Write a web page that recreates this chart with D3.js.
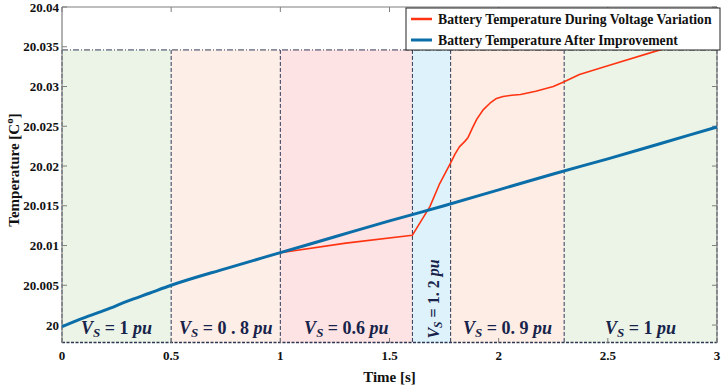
<!DOCTYPE html>
<html>
<head>
<meta charset="utf-8">
<script src="https://cdn.jsdelivr.net/npm/d3@7"></script>
<style>
  body { margin: 0; background: #fff; }
  svg { display: block; font-family: "Liberation Serif", "Times New Roman", serif; }
  .tick-label { font-weight: bold; font-size: 13px; fill: #111; }
  .axis-title { font-weight: bold; font-size: 15px; fill: #111; }
  .legend-text { font-weight: bold; font-size: 13.7px; fill: #111; }
  .region-label { font-weight: bold; font-size: 18px; fill: #17234a; }
</style>
</head>
<body>
<div id="chart"></div>
<script>
// ---- data ----
let xTicks = [0, 0.5, 1, 1.5, 2, 2.5, 3];
let yTicks = [20, 20.005, 20.01, 20.015, 20.02, 20.025, 20.03, 20.035, 20.04];

// voltage regions (start, end, label value, fill)
let regionStart = [0, 0.5, 1, 1.605, 1.78, 2.3];
let regionEnd = [0.5, 1, 1.605, 1.78, 2.3, 3];
let regionVolt = ["1", "0 . 8", "0.6", "1. 2", "0. 9", "1"];
let regionFill = ["#ebf4e6", "#fdeee8", "#fde3e3", "#def2fb", "#fdede5", "#ebf4e6"];
let regionTop = 20.0346;

// battery temperature after improvement (blue)
let blueTime = [0, 0.1, 0.2, 0.3, 0.4, 0.5, 0.75, 1, 1.25, 1.5, 1.75, 2, 2.25, 2.5, 2.75, 3];
let blueTemp = [19.9998, 20.0009, 20.0019, 20.0030, 20.0040, 20.0050, 20.0071, 20.0091, 20.0111,
                20.0131, 20.0150, 20.0170, 20.0190, 20.0209, 20.0229, 20.0249];

// battery temperature during voltage variation (red)
let redTime = [1, 1.3, 1.605, 1.685, 1.73, 1.78, 1.80, 1.82, 1.845, 1.86, 1.88, 1.9, 1.93, 1.96,
               1.99, 2.02, 2.06, 2.1, 2.17, 2.25, 2.3, 2.37, 2.5, 2.75, 3];
let redTemp = [20.0091, 20.0103, 20.0113, 20.0149, 20.0178, 20.0204, 20.0215, 20.0224, 20.0231,
               20.0236, 20.0248, 20.0259, 20.0271, 20.0279, 20.0285, 20.02875, 20.0289, 20.0290,
               20.0294, 20.0300, 20.0306, 20.0315, 20.0326, 20.0347, 20.0368];

let legendNames = ["Battery Temperature During Voltage Variation", "Battery Temperature After Improvement"];
let lineColors = ["#ff3311", "#0b6ea8"];

// ---- drawing ----
let W = 726, H = 386;
let pL = 62, pR = 717, pT = 7, pB = 343;

let svg = d3.select("#chart").append("svg")
    .attr("width", W)
    .attr("height", H);

let x = d3.scaleLinear().domain([0, 3]).range([pL, pR]);
let y = d3.scaleLinear().domain([19.99774, 20.04]).range([pB, pT]);

let regions = regionStart.map((s, i) => ({s: s, e: regionEnd[i], v: regionVolt[i], c: regionFill[i]}));

// shaded backgrounds
svg.selectAll(".region")
    .data(regions)
    .enter().append("rect")
    .attr("class", "region")
    .attr("x", d => x(d.s))
    .attr("y", y(regionTop))
    .attr("width", d => x(d.e) - x(d.s))
    .attr("height", pB - y(regionTop))
    .attr("fill", d => d.c);

// region borders
let borderColor = "#2f3855";
svg.selectAll(".vsep")
    .data(regionStart.concat([3]))
    .enter().append("line")
    .attr("x1", d => x(d)).attr("x2", d => x(d))
    .attr("y1", y(regionTop)).attr("y2", pB)
    .attr("stroke", borderColor)
    .attr("stroke-width", 1)
    .attr("stroke-dasharray", "4,2");

svg.append("line")
    .attr("x1", pL).attr("x2", pR)
    .attr("y1", y(regionTop)).attr("y2", y(regionTop))
    .attr("stroke", borderColor)
    .attr("stroke-dasharray", "6,2,1,2");
svg.append("line")
    .attr("x1", pL).attr("x2", pR)
    .attr("y1", pB - 0.5).attr("y2", pB - 0.5)
    .attr("stroke", borderColor)
    .attr("stroke-width", 1.3)
    .attr("stroke-dasharray", "3,1.5");

// axes box and ticks
let gray = "#7f7f7f";
svg.append("line").attr("x1", pL).attr("x2", pL).attr("y1", pT).attr("y2", pB)
    .attr("stroke", gray).attr("stroke-width", 1.2);
svg.append("line").attr("x1", pL).attr("x2", pR).attr("y1", pT).attr("y2", pT)
    .attr("stroke", gray).attr("stroke-width", 1.2);
svg.append("line").attr("x1", pR).attr("x2", pR).attr("y1", pT).attr("y2", pB)
    .attr("stroke", gray).attr("stroke-width", 1.2);

yTicks.forEach(t => {
  svg.append("line").attr("x1", pL).attr("x2", pL + 5).attr("y1", y(t)).attr("y2", y(t))
      .attr("stroke", gray);
  svg.append("line").attr("x1", pR).attr("x2", pR - 5).attr("y1", y(t)).attr("y2", y(t))
      .attr("stroke", gray);
  svg.append("text")
      .attr("class", "tick-label")
      .attr("x", pL - 3)
      .attr("y", y(t) + 4.5)
      .attr("text-anchor", "end")
      .text(+t.toFixed(3));
});

xTicks.forEach(t => {
  svg.append("line").attr("x1", x(t)).attr("x2", x(t)).attr("y1", pT).attr("y2", pT + 5)
      .attr("stroke", gray);
  svg.append("line").attr("x1", x(t)).attr("x2", x(t)).attr("y1", pB).attr("y2", pB - 5)
      .attr("stroke", gray);
  svg.append("text")
      .attr("class", "tick-label")
      .attr("x", x(t))
      .attr("y", 360)
      .attr("text-anchor", "middle")
      .text(t);
});

// axis titles
svg.append("text")
    .attr("class", "axis-title")
    .attr("x", (pL + pR) / 2)
    .attr("y", 382)
    .attr("text-anchor", "middle")
    .text("Time [s]");

let yt = svg.append("text")
    .attr("class", "axis-title")
    .attr("transform", "translate(19,170) rotate(-90)")
    .attr("text-anchor", "middle");
yt.append("tspan").text("Temperature [C");
yt.append("tspan").attr("dy", -6).style("font-size", "11px").text("o");
yt.append("tspan").attr("dy", 6).text("]");

// region labels
function voltLabel(sel, v) {
  sel.append("tspan").attr("font-style", "italic").text("V");
  sel.append("tspan").attr("font-style", "italic").style("font-size", "0.72em").attr("dy", 3).text("S");
  sel.append("tspan").attr("dy", -3).text(" = " + v + " ");
  sel.append("tspan").attr("font-style", "italic").text("pu");
}

regions.forEach(d => {
  let t;
  if (d.v === "1. 2") {
    t = svg.append("text")
        .attr("class", "region-label")
        .style("font-size", "16px")
        .attr("text-anchor", "middle")
        .attr("transform", "translate(" + (x((d.s + d.e) / 2) + 7) + ",299) rotate(-90)");
  } else {
    t = svg.append("text")
        .attr("class", "region-label")
        .attr("x", x((d.s + d.e) / 2))
        .attr("y", 334)
        .attr("text-anchor", "middle");
  }
  voltLabel(t, d.v);
});

// lines
let smooth = d3.line()
    .x(d => x(d[0]))
    .y(d => y(d[1]))
    .curve(d3.curveMonotoneX);

let straight = d3.line()
    .x(d => x(d[0]))
    .y(d => y(d[1]));

svg.append("path")
    .datum(redTime.map((t, i) => [t, redTemp[i]]))
    .attr("fill", "none")
    .attr("stroke", lineColors[0])
    .attr("stroke-width", 1.6)
    .attr("stroke-linejoin", "round")
    .attr("d", straight);

svg.append("path")
    .datum(blueTime.map((t, i) => [t, blueTemp[i]]))
    .attr("fill", "none")
    .attr("stroke", lineColors[1])
    .attr("stroke-width", 3)
    .attr("d", smooth);

// legend
let lg = svg.append("g").attr("transform", "translate(406,8)");
lg.append("rect")
    .attr("width", 314)
    .attr("height", 42)
    .attr("fill", "#fff")
    .attr("stroke", "#222")
    .attr("stroke-width", 1);

legendNames.forEach((name, i) => {
  lg.append("line")
      .attr("x1", 5).attr("x2", 26)
      .attr("y1", 11 + i * 21).attr("y2", 11 + i * 21)
      .attr("stroke", lineColors[i])
      .attr("stroke-width", i === 0 ? 2.5 : 3);
  lg.append("text")
      .attr("class", "legend-text")
      .attr("x", 32)
      .attr("y", 16 + i * 21)
      .text(name);
});
</script>
</body>
</html>
